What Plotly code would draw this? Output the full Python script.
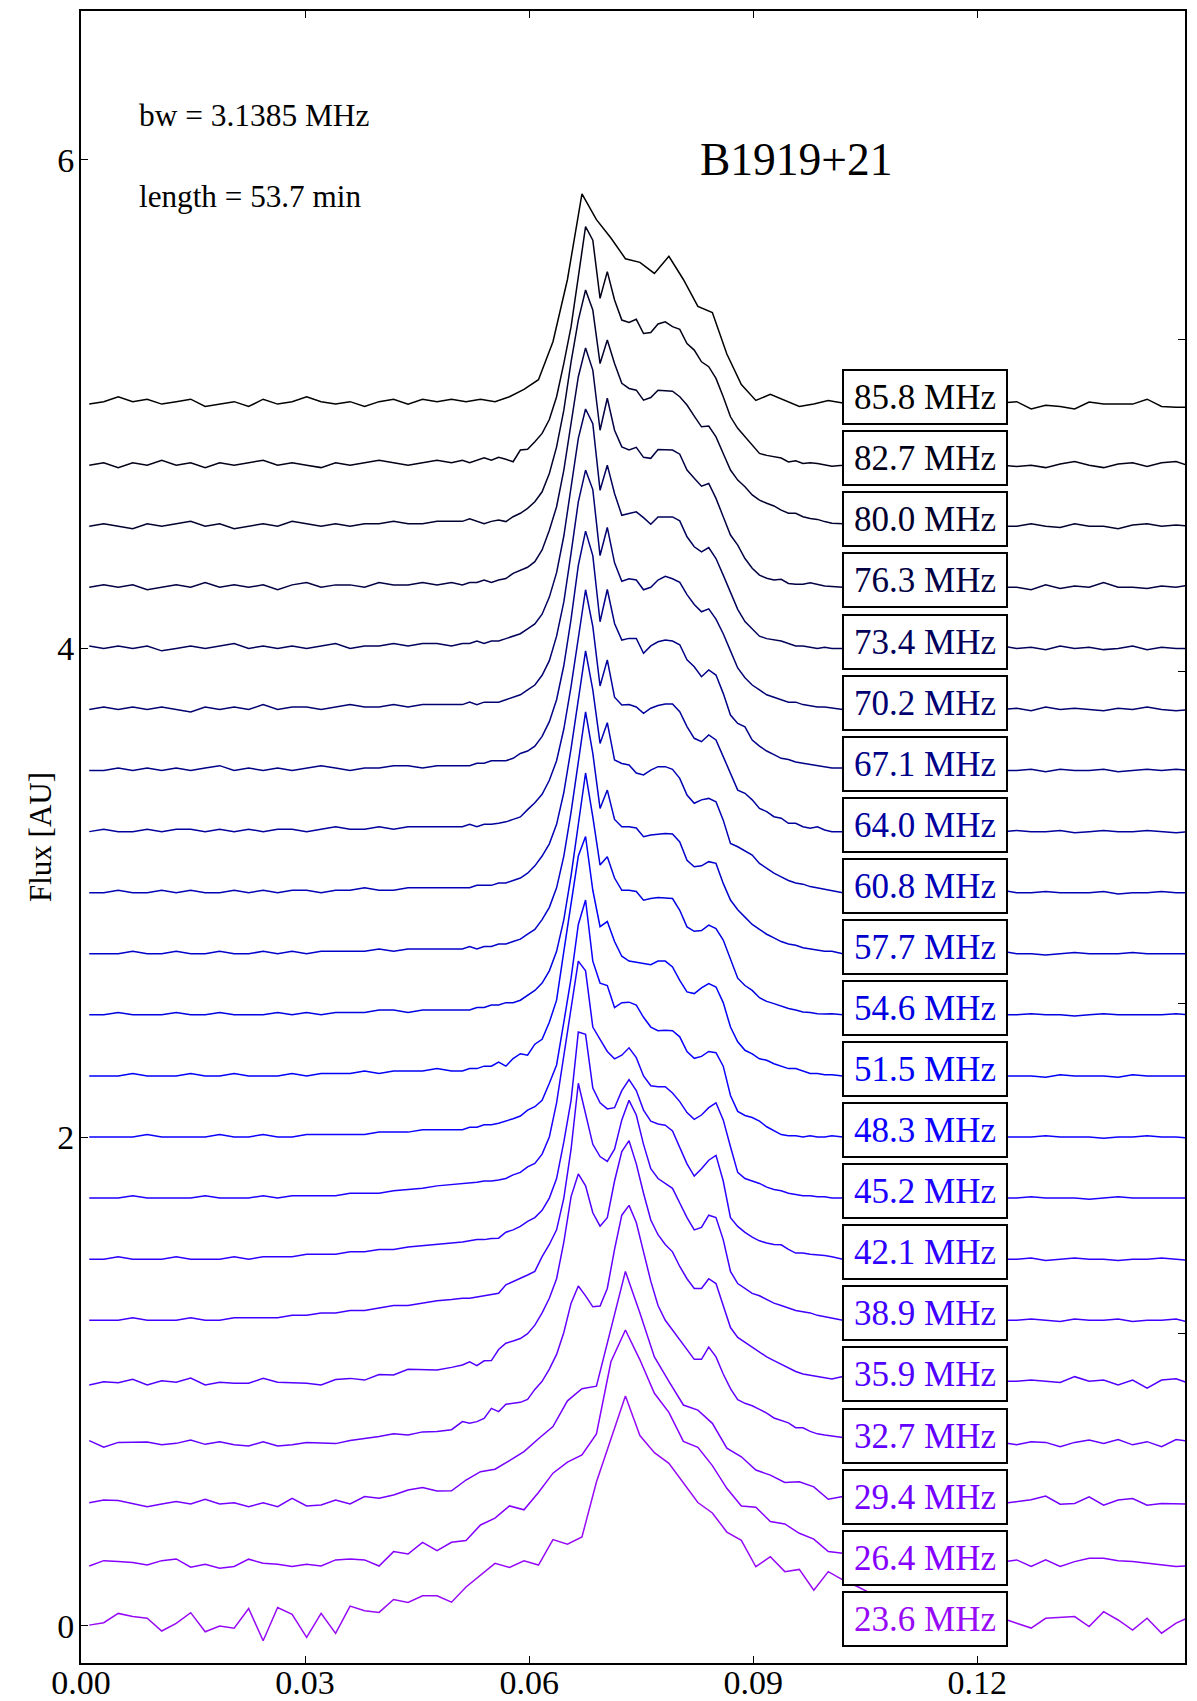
import numpy as np
import plotly.graph_objects as go

# ---------------- data ----------------
FREQS = [85.8, 82.7, 80.0, 76.3, 73.4, 70.2, 67.1, 64.0, 60.8, 57.7, 54.6,
         51.5, 48.3, 45.2, 42.1, 38.9, 35.9, 32.7, 29.4, 26.4, 23.6]
OFFSET_STEP = 0.25
X_TICKS = [0.0, 0.03, 0.06, 0.09, 0.12]
X_TICK_TEXT = ["0.00", "0.03", "0.06", "0.09", "0.12"]
Y_TICKS = [0, 2, 4, 6]
Y2_TICKS = [1.195, 2.545, 3.904, 5.263]
BW_TEXT = "bw = 3.1385 MHz"
LEN_TEXT = "length = 53.7 min"
PSR_NAME = "B1919+21"
Y_TITLE = "Flux [AU]"

# phase bins (s): fine bins of 0.97 ms, coarse bins are pairs of fine bins
DX_FINE = 0.00097
X0_FINE = 0.00062
X_COARSE = X0_FINE + DX_FINE * (2 * np.arange(77) + 0.5)
X_FINE = np.concatenate([X_COARSE[:26], X0_FINE + DX_FINE * np.arange(52, 104), X_COARSE[52:77]])

# coarse-sampled profiles (77 bins)
P858 = [0.00, 0.01, 0.03, 0.01, 0.02, 0.00, 0.01, 0.02, -0.01, 0.00,
        0.01, -0.01, 0.02, 0.00, 0.01, 0.03, 0.01, 0.00, 0.01, -0.01,
        0.01, 0.02, 0.00, 0.02, 0.01, 0.02, 0.01, 0.02,
        0.01, 0.03, 0.06, 0.10, 0.255, 0.51, 0.86, 0.755, 0.68, 0.595,
        0.58, 0.535, 0.605, 0.51, 0.40, 0.375, 0.205, 0.08, 0.015, 0.04,
        0.015, -0.01, 0.0, 0.015, 0.005, 0.01, 0.0, 0.01, 0.0, 0.01,
        0.0, 0.01, 0.0, 0.01, 0.0, 0.005, 0.01, -0.02, -0.005, -0.01,
        -0.02, 0.008, 0.0, 0.0, 0.0, 0.02, -0.01, -0.013, -0.013]

P294 = [0.003, 0.014, 0.012, 0.001, -0.013, -0.002, 0.008, -0.002, 0.017, -0.002,
        0.003, -0.013, 0.003, -0.013, 0.021, -0.01, -0.006, 0.014, -0.002, 0.028,
        0.021, 0.035, 0.055, 0.065, 0.051, 0.052, 0.096, 0.13, 0.14, 0.175,
        0.212, 0.265, 0.315, 0.42, 0.47, 0.48, 0.71, 0.95, 0.78, 0.60,
        0.50, 0.403, 0.382, 0.328, 0.226, 0.191, 0.137, 0.116, 0.086, 0.089,
        0.068, 0.017, 0.028, 0.02, 0.015, 0.01, 0.01, 0.005, 0.0, 0.005,
        0.0, 0.005, 0.0, 0.0, 0.007, 0.015, 0.03, -0.003, 0.0, 0.027,
        -0.007, 0.014, 0.02, -0.007, 0.0, 0.0, -0.003]

P264 = [-0.006, 0.016, 0.012, 0.008, -0.002, 0.016, 0.023, -0.011, 0.001, -0.015,
        -0.008, 0.022, 0.005, 0.001, -0.008, 0.001, -0.006, 0.019, 0.023, 0.019,
        -0.006, 0.053, 0.043, 0.091, 0.057, 0.091, 0.098, 0.162, 0.19, 0.24,
        0.224, 0.295, 0.374, 0.419, 0.449, 0.535, 0.83, 0.96, 0.838, 0.701,
        0.623, 0.504, 0.48, 0.405, 0.312, 0.24, 0.235, 0.176, 0.166, 0.128,
        0.104, 0.053, 0.046, 0.04, 0.03, 0.03, 0.02, 0.02, 0.01, 0.02,
        0.01, 0.01, 0.02, 0.01, 0.019, -0.008, 0.019, -0.008, 0.012, 0.026,
        0.026, 0.016, 0.012, 0.005, -0.001, -0.008, -0.005]

P236 = [0.002, 0.012, 0.05, 0.037, 0.03, -0.022, 0.009, 0.053, -0.025, -0.002,
        -0.011, 0.07, -0.062, 0.074, 0.046, -0.048, 0.05, -0.032, 0.08, 0.061,
        0.054, 0.107, 0.095, 0.122, 0.122, 0.096, 0.158, 0.207, 0.255, 0.238,
        0.265, 0.248, 0.352, 0.333, 0.363, 0.588, 0.76, 0.94, 0.778, 0.708,
        0.664, 0.583, 0.504, 0.461, 0.383, 0.349, 0.241, 0.282, 0.221, 0.23,
        0.145, 0.221, 0.187, 0.16, 0.13, 0.12, 0.10, 0.09, 0.08, 0.07,
        0.06, 0.05, 0.04, 0.03, 0.01, -0.01, 0.03, 0.035, 0.037, -0.004,
        0.057, 0.023, -0.018, 0.03, -0.031, 0.01, 0.037]

# fine-sampled profiles (103 bins: 26 coarse, 52 fine, 25 coarse)
P827 = [0.00, 0.01, -0.01, 0.01, 0.00, 0.02, 0.00, 0.01, -0.01, 0.01,
        0.00, 0.01, 0.02, 0.00, 0.01, 0.00, -0.01, 0.01, 0.00, 0.01,
        0.02, 0.01, 0.00, 0.01, 0.02, 0.01,
        0.02, 0.01, 0.02, 0.03, 0.02, 0.032, 0.024, 0.014, 0.062, 0.065,
        0.096, 0.13, 0.187, 0.28, 0.417, 0.567, 0.771, 0.976, 0.921, 0.683,
        0.792, 0.676, 0.594, 0.584, 0.597, 0.539, 0.543, 0.578, 0.587, 0.567,
        0.556, 0.498, 0.471, 0.423, 0.403, 0.355, 0.28, 0.198, 0.151, 0.116,
        0.082, 0.048, 0.04, 0.035, 0.029, 0.013, 0.018, 0.007, 0.01, 0.007,
        0.0, -0.004,
        0.00, 0.01, 0.00, 0.01, 0.00, 0.01, 0.00, 0.00, 0.01, 0.00,
        0.01, 0.00, -0.005, 0.0, -0.01, 0.005, 0.015, 0.0, -0.01, 0.005,
        0.01, -0.005, 0.01, 0.015, -0.005]

P800 = [0.00, 0.01, 0.00, -0.01, 0.01, 0.00, 0.01, 0.02, 0.00, 0.01,
        -0.01, 0.00, 0.01, 0.00, 0.02, 0.01, 0.00, 0.01, 0.00, 0.01,
        0.01, 0.02, 0.01, 0.01, 0.02, 0.02,
        0.02, 0.03, 0.02, 0.01, 0.02, 0.025, 0.019, 0.039, 0.053, 0.073,
        0.10, 0.141, 0.216, 0.325, 0.475, 0.673, 0.844, 0.967, 0.885, 0.666,
        0.762, 0.666, 0.585, 0.564, 0.557, 0.516, 0.527, 0.557, 0.555, 0.553,
        0.53, 0.496, 0.451, 0.407, 0.41, 0.366, 0.298, 0.23, 0.189, 0.162,
        0.128, 0.107, 0.094, 0.083, 0.066, 0.053, 0.053, 0.039, 0.032, 0.028,
        0.019, 0.012,
        0.01, 0.00, 0.01, 0.00, 0.00, 0.01, 0.00, 0.01, 0.00, 0.00,
        0.01, 0.00, 0.0, 0.01, 0.0, -0.005, 0.01, 0.0, 0.0, -0.01,
        0.005, 0.01, 0.0, 0.005, 0.0]

P763 = [0.00, 0.01, 0.00, 0.01, -0.01, 0.00, 0.01, 0.00, 0.02, 0.00,
        0.01, 0.00, 0.01, -0.01, 0.01, 0.02, 0.00, 0.01, 0.01, 0.00,
        0.02, 0.01, 0.01, 0.02, 0.01, 0.02,
        0.01, 0.02, 0.02, 0.03, 0.02, 0.03, 0.036, 0.057, 0.071, 0.082,
        0.105, 0.153, 0.234, 0.33, 0.48, 0.671, 0.862, 0.98, 0.889, 0.643,
        0.774, 0.643, 0.575, 0.562, 0.573, 0.532, 0.528, 0.564, 0.562, 0.562,
        0.545, 0.48, 0.446, 0.414, 0.425, 0.364, 0.289, 0.214, 0.173, 0.118,
        0.078, 0.05, 0.037, 0.03, 0.033, 0.016, 0.013, 0.013, 0.019, 0.013,
        0.005, 0.003,
        0.00, 0.01, 0.00, 0.01, 0.00, 0.00, 0.01, 0.00, 0.01, 0.00,
        0.01, 0.00, 0.0, -0.01, 0.01, -0.005, 0.005, 0.0, 0.02, 0.0,
        0.0, -0.005, 0.005, 0.0, 0.01]

P734 = [0.01, 0.00, 0.01, 0.00, 0.01, -0.01, 0.00, 0.01, 0.00, 0.01,
        0.02, 0.00, 0.01, 0.00, 0.01, 0.00, 0.01, 0.02, 0.00, 0.01,
        0.01, 0.02, 0.01, 0.02, 0.02, 0.01,
        0.02, 0.02, 0.03, 0.02, 0.03, 0.03, 0.04, 0.05, 0.06, 0.08,
        0.10, 0.14, 0.21, 0.31, 0.46, 0.66, 0.86, 0.98, 0.92, 0.647,
        0.75, 0.634, 0.545, 0.552, 0.559, 0.535, 0.508, 0.538, 0.538, 0.538,
        0.522, 0.457, 0.416, 0.395, 0.413, 0.368, 0.30, 0.23, 0.16, 0.11,
        0.08, 0.05, 0.04, 0.035, 0.03, 0.02, 0.01, 0.01, 0.005, 0.0,
        0.005, 0.0,
        0.00, 0.01, 0.00, 0.00, 0.01, 0.00, 0.01, 0.00, 0.00, 0.01,
        0.00, 0.01, 0.0, 0.005, -0.005, 0.01, 0.0, 0.005, -0.005, 0.0,
        0.01, -0.005, 0.005, 0.0, 0.0]

P702 = [0.00, 0.01, 0.00, 0.01, 0.00, 0.01, 0.00, -0.01, 0.01, 0.00,
        0.01, 0.00, 0.02, 0.00, 0.01, 0.01, 0.00, 0.01, 0.02, 0.01,
        0.01, 0.02, 0.01, 0.02, 0.02, 0.02,
        0.02, 0.03, 0.02, 0.03, 0.03, 0.03, 0.04, 0.05, 0.06, 0.08,
        0.10, 0.14, 0.20, 0.30, 0.44, 0.64, 0.85, 0.98, 0.90, 0.63,
        0.745, 0.60, 0.525, 0.535, 0.53, 0.49, 0.50, 0.53, 0.545, 0.535,
        0.52, 0.47, 0.43, 0.40, 0.412, 0.37, 0.31, 0.24, 0.17, 0.13,
        0.10, 0.08, 0.06, 0.05, 0.04, 0.03, 0.03, 0.02, 0.015, 0.01,
        0.01, 0.005,
        0.00, 0.01, 0.00, 0.01, 0.00, 0.00, 0.01, 0.00, 0.00, 0.01,
        0.00, 0.00, 0.005, -0.005, 0.01, 0.0, 0.005, 0.0, -0.005, 0.005,
        0.0, 0.01, 0.0, -0.005, 0.0]

P671 = [0.00, 0.00, 0.01, 0.00, 0.01, 0.00, 0.01, 0.00, 0.01, 0.02,
        0.00, 0.01, 0.00, 0.01, 0.00, 0.01, 0.02, 0.01, 0.00, 0.01,
        0.01, 0.02, 0.02, 0.01, 0.02, 0.02,
        0.02, 0.02, 0.03, 0.03, 0.04, 0.04, 0.04, 0.05, 0.07, 0.08,
        0.10, 0.14, 0.20, 0.29, 0.43, 0.62, 0.84, 0.98, 0.88, 0.609,
        0.741, 0.602, 0.534, 0.541, 0.541, 0.48, 0.51, 0.527, 0.534, 0.53,
        0.515, 0.453, 0.425, 0.384, 0.412, 0.391, 0.316, 0.227, 0.193, 0.179,
        0.125, 0.10, 0.08, 0.065, 0.05, 0.045, 0.035, 0.03, 0.025, 0.02,
        0.015, 0.01,
        0.01, 0.00, 0.01, 0.00, 0.00, 0.01, 0.00, 0.01, 0.00, 0.00,
        0.01, 0.00, 0.0, 0.005, -0.005, 0.005, 0.0, 0.0, 0.005, -0.005,
        0.0, 0.005, 0.0, 0.005, 0.0]

P640 = [0.00, 0.01, 0.00, 0.00, 0.01, 0.00, 0.01, 0.01, 0.00, 0.01,
        0.00, 0.01, 0.00, 0.01, 0.01, 0.00, 0.01, 0.02, 0.01, 0.01,
        0.02, 0.01, 0.02, 0.02, 0.02, 0.02,
        0.02, 0.03, 0.02, 0.03, 0.03, 0.034, 0.04, 0.05, 0.06, 0.09,
        0.118, 0.153, 0.21, 0.29, 0.42, 0.595, 0.80, 0.99, 0.84, 0.596,
        0.703, 0.55, 0.518, 0.52, 0.51, 0.484, 0.505, 0.516, 0.522, 0.522,
        0.491, 0.43, 0.382, 0.368, 0.396, 0.375, 0.307, 0.239, 0.17, 0.157,
        0.13, 0.095, 0.082, 0.061, 0.055, 0.034, 0.034, 0.02, 0.014, 0.02,
        0.007, 0.0,
        0.00, 0.01, 0.00, 0.01, 0.00, 0.00, 0.01, 0.00, 0.00, 0.01,
        0.00, 0.00, 0.005, 0.0, 0.0, 0.005, -0.005, 0.0, 0.005, 0.0,
        0.0, 0.005, 0.0, -0.005, 0.0]

P608 = [0.00, 0.00, 0.01, 0.00, 0.00, 0.01, 0.00, 0.01, 0.00, 0.00,
        0.01, 0.00, 0.01, 0.00, 0.01, 0.01, 0.00, 0.01, 0.01, 0.02,
        0.01, 0.01, 0.02, 0.02, 0.02, 0.02,
        0.02, 0.02, 0.03, 0.03, 0.03, 0.04, 0.04, 0.05, 0.06, 0.08,
        0.11, 0.15, 0.20, 0.28, 0.41, 0.59, 0.80, 0.99, 0.83, 0.611,
        0.696, 0.543, 0.529, 0.523, 0.49, 0.482, 0.502, 0.516, 0.516, 0.505,
        0.468, 0.40, 0.366, 0.38, 0.386, 0.372, 0.297, 0.202, 0.188, 0.17,
        0.154, 0.12, 0.10, 0.08, 0.065, 0.05, 0.04, 0.035, 0.025, 0.02,
        0.015, 0.01,
        0.00, 0.00, 0.01, 0.00, 0.00, 0.00, 0.01, 0.00, 0.00, 0.00,
        0.00, 0.01, 0.0, 0.0, 0.005, 0.0, 0.0, 0.0, 0.005, -0.005,
        0.0, 0.0, 0.005, 0.0, 0.0]

P577 = [0.00, 0.00, 0.00, 0.01, 0.00, 0.00, 0.01, 0.00, 0.00, 0.01,
        0.00, 0.00, 0.01, 0.00, 0.01, 0.00, 0.01, 0.01, 0.01, 0.01,
        0.02, 0.01, 0.02, 0.02, 0.02, 0.02,
        0.02, 0.03, 0.02, 0.03, 0.03, 0.04, 0.04, 0.05, 0.06, 0.08,
        0.10, 0.14, 0.19, 0.27, 0.40, 0.58, 0.79, 0.99, 0.82, 0.595,
        0.67, 0.55, 0.52, 0.52, 0.515, 0.479, 0.486, 0.49, 0.492, 0.49,
        0.458, 0.383, 0.356, 0.36, 0.377, 0.37, 0.288, 0.22, 0.18, 0.15,
        0.12, 0.10, 0.08, 0.065, 0.05, 0.04, 0.035, 0.025, 0.02, 0.015,
        0.01, 0.01,
        0.00, 0.00, 0.00, 0.01, 0.00, 0.00, 0.00, 0.01, 0.00, 0.00,
        0.00, 0.01, 0.0, 0.0, -0.005, 0.0, 0.005, 0.0, 0.0, 0.0,
        0.005, 0.0, 0.0, 0.0, 0.0]

P546 = [0.00, 0.00, 0.01, 0.00, 0.00, 0.00, 0.01, 0.00, 0.00, 0.01,
        0.00, 0.00, 0.00, 0.01, 0.00, 0.01, 0.00, 0.01, 0.01, 0.01,
        0.02, 0.02, 0.01, 0.02, 0.02, 0.02,
        0.02, 0.02, 0.03, 0.03, 0.04, 0.04, 0.05, 0.05, 0.06, 0.08,
        0.10, 0.13, 0.18, 0.26, 0.39, 0.57, 0.78, 0.99, 0.81, 0.613,
        0.647, 0.56, 0.51, 0.51, 0.505, 0.469, 0.476, 0.48, 0.478, 0.476,
        0.428, 0.36, 0.342, 0.345, 0.367, 0.353, 0.306, 0.224, 0.15, 0.12,
        0.10, 0.07, 0.055, 0.046, 0.035, 0.026, 0.02, 0.012, 0.01, 0.005,
        0.004, 0.005,
        0.00, 0.00, 0.00, 0.00, 0.01, 0.00, 0.00, 0.00, 0.00, 0.01,
        0.00, 0.00, 0.0, 0.005, 0.0, 0.0, -0.005, 0.0, 0.005, 0.0,
        0.0, 0.0, 0.0, 0.005, 0.0]

P515 = [0.00, 0.00, 0.00, 0.01, 0.00, 0.00, 0.00, 0.01, 0.00, 0.00,
        0.01, 0.00, 0.00, 0.00, 0.01, 0.00, 0.01, 0.01, 0.01, 0.02,
        0.01, 0.02, 0.02, 0.02, 0.03, 0.02,
        0.02, 0.03, 0.03, 0.04, 0.04, 0.057, 0.04, 0.071, 0.091, 0.085,
        0.13, 0.15, 0.22, 0.31, 0.51, 0.70, 0.90, 0.98, 0.76, 0.611,
        0.632, 0.55, 0.49, 0.47, 0.465, 0.46, 0.455, 0.47, 0.47, 0.446,
        0.391, 0.344, 0.337, 0.36, 0.378, 0.364, 0.30, 0.20, 0.14, 0.105,
        0.09, 0.07, 0.064, 0.05, 0.04, 0.03, 0.03, 0.02, 0.01, 0.01,
        0.005, 0.005,
        0.00, 0.00, 0.00, 0.00, 0.00, 0.01, 0.00, 0.00, 0.00, 0.00,
        0.01, 0.00, 0.0, 0.0, -0.005, 0.005, 0.0, 0.0, 0.0, -0.005,
        0.005, 0.0, 0.0, 0.0, 0.0]

P483 = [0.00, 0.00, 0.00, 0.00, 0.01, 0.00, 0.00, 0.00, 0.00, 0.01,
        0.00, 0.00, 0.01, 0.00, 0.00, 0.01, 0.01, 0.01, 0.01, 0.01,
        0.02, 0.02, 0.02, 0.03, 0.03, 0.03,
        0.03, 0.04, 0.04, 0.05, 0.05, 0.056, 0.064, 0.075, 0.086, 0.11,
        0.124, 0.15, 0.22, 0.295, 0.47, 0.65, 0.87, 0.97, 0.72, 0.63,
        0.62, 0.53, 0.55, 0.552, 0.54, 0.49, 0.45, 0.435, 0.437, 0.435,
        0.41, 0.35, 0.322, 0.33, 0.35, 0.345, 0.29, 0.17, 0.105, 0.088,
        0.08, 0.065, 0.042, 0.025, 0.01, 0.005, 0.005, 0.0, 0.005, 0.0,
        0.0, 0.005,
        0.00, 0.00, 0.00, 0.00, 0.00, 0.00, 0.01, 0.00, 0.00, 0.00,
        0.00, 0.00, 0.0, 0.0, 0.005, 0.0, 0.0, 0.0, -0.005, 0.0,
        0.0, 0.005, 0.0, 0.0, -0.005]

P452 = [0.00, 0.00, 0.00, 0.01, 0.00, 0.00, 0.00, 0.00, 0.01, 0.00,
        0.00, 0.00, 0.01, 0.00, 0.01, 0.01, 0.01, 0.01, 0.02, 0.02,
        0.02, 0.03, 0.035, 0.04, 0.05, 0.055,
        0.06, 0.06, 0.065, 0.07, 0.07, 0.074, 0.08, 0.095, 0.105, 0.128,
        0.142, 0.18, 0.25, 0.39, 0.58, 0.77, 0.97, 0.93, 0.70, 0.65,
        0.60, 0.57, 0.585, 0.615, 0.575, 0.50, 0.46, 0.456, 0.456, 0.43,
        0.395, 0.35, 0.322, 0.34, 0.37, 0.39, 0.32, 0.21, 0.105, 0.08,
        0.07, 0.06, 0.045, 0.035, 0.03, 0.02, 0.015, 0.01, 0.01, 0.005,
        0.005, 0.0,
        0.00, 0.00, 0.00, 0.00, 0.00, 0.00, 0.00, 0.00, 0.00, 0.00,
        0.00, 0.00, 0.0, 0.005, 0.0, 0.0, 0.0, -0.005, 0.0, 0.005,
        0.0, 0.0, 0.0, 0.0, 0.0]

P421 = [0.00, 0.00, 0.01, 0.00, 0.00, 0.00, 0.01, 0.00, 0.00, 0.00,
        0.01, 0.00, 0.01, 0.01, 0.01, 0.02, 0.02, 0.02, 0.03, 0.03,
        0.04, 0.04, 0.05, 0.055, 0.06, 0.065,
        0.07, 0.075, 0.08, 0.08, 0.085, 0.086, 0.11, 0.12, 0.134, 0.155,
        0.17, 0.20, 0.25, 0.33, 0.48, 0.65, 0.93, 0.92, 0.70, 0.64,
        0.615, 0.62, 0.69, 0.735, 0.69, 0.61, 0.565, 0.553, 0.548, 0.525,
        0.455, 0.39, 0.34, 0.37, 0.405, 0.425, 0.32, 0.17, 0.134, 0.11,
        0.09, 0.075, 0.066, 0.06, 0.059, 0.04, 0.025, 0.025, 0.02, 0.018,
        0.015, 0.01,
        0.00, 0.00, 0.00, 0.00, 0.00, 0.00, 0.00, 0.00, 0.00, 0.00,
        0.00, 0.00, 0.0, 0.005, -0.005, 0.0, 0.005, 0.0, 0.0, -0.005,
        0.0, 0.0, 0.005, 0.0, -0.005]

P389 = [0.00, 0.00, 0.00, 0.01, 0.00, 0.00, 0.00, 0.01, 0.00, 0.00,
        0.01, 0.01, 0.01, 0.01, 0.02, 0.02, 0.03, 0.03, 0.04, 0.04,
        0.05, 0.06, 0.06, 0.07, 0.08, 0.085,
        0.09, 0.09, 0.095, 0.10, 0.105, 0.11, 0.145, 0.158, 0.17, 0.185,
        0.20, 0.26, 0.31, 0.37, 0.50, 0.70, 0.97, 0.85, 0.72, 0.67,
        0.65, 0.70, 0.82, 0.90, 0.84, 0.72, 0.62, 0.58, 0.56, 0.54,
        0.48, 0.42, 0.37, 0.38, 0.43, 0.42, 0.33, 0.20, 0.15, 0.13,
        0.11, 0.10, 0.085, 0.07, 0.06, 0.05, 0.04, 0.035, 0.03, 0.02,
        0.015, 0.01,
        0.00, 0.00, 0.00, 0.00, 0.00, 0.00, 0.00, 0.00, 0.00, 0.00,
        0.00, 0.00, 0.0, 0.005, 0.0, -0.005, 0.005, 0.0, 0.0, 0.005,
        -0.005, 0.0, 0.0, 0.005, -0.01]

P359 = [-0.015, -0.002, -0.006, 0.008, -0.015, 0.002, -0.004, 0.013, -0.015, -0.004,
        -0.008, -0.008, 0.012, -0.004, -0.006, -0.008, -0.015, 0.007, 0.012, 0.005,
        0.028, 0.026, 0.049, 0.046, 0.046, 0.057,
        0.067, 0.08, 0.064, 0.084, 0.085, 0.13, 0.156, 0.165, 0.175, 0.195,
        0.23, 0.28, 0.34, 0.42, 0.57, 0.756, 0.849, 0.80, 0.69, 0.635,
        0.67, 0.82, 0.94, 0.985, 0.89, 0.77, 0.66, 0.60, 0.56, 0.53,
        0.47, 0.42, 0.38, 0.38, 0.42, 0.40, 0.31, 0.22, 0.18, 0.16,
        0.14, 0.12, 0.10, 0.085, 0.07, 0.055, 0.04, 0.03, 0.025, 0.02,
        0.015, 0.01,
        0.02, 0.015, 0.01, 0.01, 0.005, 0.0, 0.005, 0.0, 0.0, 0.005,
        0.0, 0.0, 0.0, 0.005, 0.0, -0.005, 0.019, 0.0, 0.005, -0.015,
        0.005, -0.028, 0.005, 0.01, -0.01]

P327 = [0.007, -0.02, 0.0, 0.0, 0.002, -0.01, -0.004, 0.01, -0.008, 0.003,
        -0.01, -0.015, 0.003, -0.015, -0.01, 0.0, -0.004, -0.005, 0.008, 0.015,
        0.024, 0.035, 0.03, 0.043, 0.045, 0.052,
        0.085, 0.078, 0.085, 0.098, 0.139, 0.126, 0.156, 0.16, 0.164, 0.176,
        0.217, 0.25, 0.30, 0.36, 0.45, 0.57, 0.64, 0.60, 0.555, 0.558,
        0.63, 0.79, 0.93, 0.97, 0.90, 0.78, 0.66, 0.56, 0.50, 0.46,
        0.42, 0.38, 0.34, 0.34, 0.39, 0.35, 0.28, 0.22, 0.175, 0.16,
        0.15, 0.135, 0.12, 0.10, 0.09, 0.08, 0.06, 0.06, 0.045, 0.035,
        0.03, 0.025,
        0.02, 0.02, 0.015, 0.01, 0.01, 0.005, 0.0, 0.005, 0.0, 0.0,
        0.005, 0.0, -0.01, 0.003, 0.0, -0.018, 0.0, 0.01, -0.004, 0.012,
        -0.01, 0.003, -0.018, 0.012, 0.003]

PROFILES = [P858, P827, P800, P763, P734, P702, P671, P640, P608, P577, P546,
            P515, P483, P452, P421, P389, P359, P327, P294, P264, P236]

# ---------------- style ----------------
FONT = "Liberation Serif"


def gnuplot2(v):
    r = min(max(v / 0.32 - 0.78125, 0.0), 1.0)
    g = min(max(2 * v - 0.84, 0.0), 1.0)
    if v < 0.25:
        b = 4 * v
    elif v < 0.42:
        b = 1.0
    elif v < 0.92:
        b = -2 * v + 1.84
    else:
        b = v / 0.08 - 11.5
    b = min(max(b, 0.0), 1.0)
    return "rgb(%d,%d,%d)" % (round(r * 255), round(g * 255), round(b * 255))


n = len(FREQS)
fig = go.Figure()
annotations = []
for i, (f, prof) in enumerate(zip(FREQS, PROFILES)):
    xs = X_COARSE if len(prof) == len(X_COARSE) else X_FINE
    assert len(prof) == len(xs), (f, len(prof))
    off = OFFSET_STEP * (n - 1 - i)
    col = gnuplot2(0.022 * i)
    fig.add_trace(go.Scatter(x=xs, y=np.array(prof) + off, mode="lines",
                             line=dict(color=col, width=1.5), showlegend=False,
                             hoverinfo="skip"))
    annotations.append(dict(
        x=0.11296, y=off + 0.028, xref="x", yref="y", text="%.1f MHz" % f,
        showarrow=False, xanchor="center", yanchor="middle",
        font=dict(family=FONT, size=35, color=col),
        bgcolor="white", bordercolor="black", borderwidth=2, borderpad=2,
        width=158, height=48, align="center", valign="middle"))

# empty trace to carry the right-hand axis
fig.add_trace(go.Scatter(x=[], y=[], yaxis="y2", showlegend=False))

annotations += [
    dict(x=0.0504, y=0.9367, xref="paper", yref="paper", text=BW_TEXT, showarrow=False,
         xanchor="left", yanchor="middle", font=dict(family=FONT, size=31.4, color="black")),
    dict(x=0.0504, y=0.8876, xref="paper", yref="paper", text=LEN_TEXT, showarrow=False,
         xanchor="left", yanchor="middle", font=dict(family=FONT, size=31.2, color="black")),
    dict(x=0.5585, y=0.9100, xref="paper", yref="paper", text=PSR_NAME, showarrow=False,
         xanchor="left", yanchor="middle", font=dict(family=FONT, size=45.5, color="black")),
    dict(x=-0.0371, y=0.5, xref="paper", yref="paper", text=Y_TITLE, showarrow=False,
         textangle=-90, xanchor="center", yanchor="middle",
         font=dict(family=FONT, size=31, color="black")),
]

YR = [-0.153, 6.609]
fig.update_layout(
    template="none",
    width=1197, height=1701,
    margin=dict(l=81, r=12, t=11, b=38, pad=0, autoexpand=False),
    plot_bgcolor="white", paper_bgcolor="white",
    showlegend=False,
    annotations=annotations,
    xaxis=dict(range=[0, 0.1478], tickvals=X_TICKS, ticktext=X_TICK_TEXT,
               ticks="inside", ticklen=7, tickwidth=1, tickcolor="black",
               showline=True, linewidth=2, linecolor="black", mirror="ticks",
               showgrid=False, zeroline=False, automargin=False,
               ticklabelstandoff=-12,
               tickfont=dict(family=FONT, size=34, color="black")),
    yaxis=dict(range=YR, tickvals=Y_TICKS, ticks="inside", ticklen=7, tickwidth=1,
               tickcolor="black", showline=True, linewidth=2, linecolor="black",
               mirror=True, showgrid=False, zeroline=False, automargin=False,
               ticklabelstandoff=-2,
               tickfont=dict(family=FONT, size=34, color="black")),
    yaxis2=dict(range=YR, overlaying="y", side="right", tickvals=Y2_TICKS,
                ticks="inside", ticklen=7, tickwidth=1, tickcolor="black",
                showticklabels=False, showline=False, showgrid=False,
                zeroline=False, automargin=False),
)

fig.write_html("out.html", config={"displayModeBar": False},
               post_script="document.body.style.margin='0';document.body.style.overflow='hidden';")
